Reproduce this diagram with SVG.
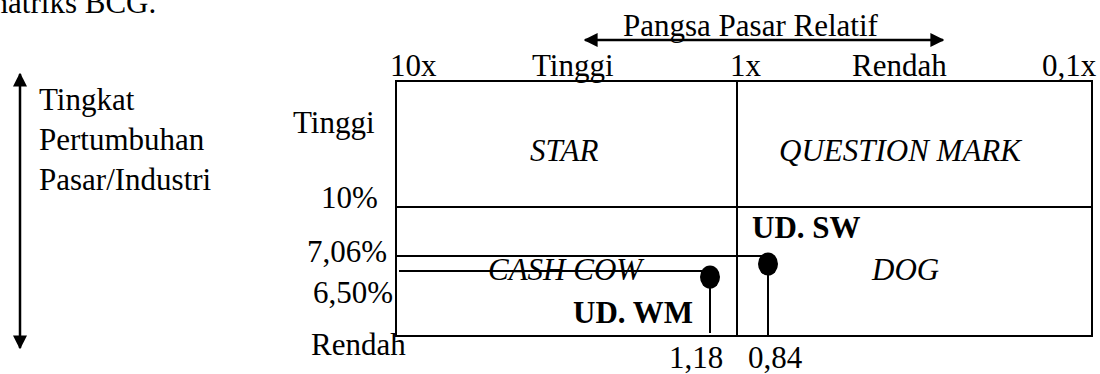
<svg xmlns="http://www.w3.org/2000/svg" width="1100" height="374" viewBox="0 0 1100 374">
<style>
text{font-family:"Liberation Serif","Times New Roman",serif;font-size:31px;fill:#000}
.it{font-style:italic}
.b{font-weight:bold}
.ln{stroke:#000;stroke-width:2;fill:none}
.ax{stroke:#000;stroke-width:2.5;fill:none}
</style>
<defs>
<marker id="ah" viewBox="0 0 10 10" refX="9" refY="5" markerWidth="5.6" markerHeight="5.6" orient="auto-start-reverse" markerUnits="strokeWidth">
<path d="M0,0 L10,5 L0,10 z" fill="#000"/>
</marker>
</defs>
<text x="-16" y="13">matriks BCG.</text>
<g id="axis-y">
<line class="ax" x1="20" y1="74" x2="20" y2="348" marker-start="url(#ah)" marker-end="url(#ah)"/>
<text x="39" y="110">Tingkat</text>
<text x="39" y="150">Pertumbuhan</text>
<text x="39" y="190">Pasar/Industri</text>
</g>
<g id="axis-x">
<line class="ax" x1="585" y1="40" x2="943" y2="40" marker-start="url(#ah)" marker-end="url(#ah)"/>
<text x="623" y="36">Pangsa Pasar Relatif</text>
<text x="390" y="76">10x</text>
<text x="532" y="76">Tinggi</text>
<text x="730" y="76">1x</text>
<text x="852" y="76">Rendah</text>
<text x="1042" y="76">0,1x</text>
</g>
<g id="labels-y">
<text x="293" y="133">Tinggi</text>
<text x="321" y="208">10%</text>
<text x="307" y="262">7,06%</text>
<text x="313" y="303">6,50%</text>
<text x="311" y="355">Rendah</text>
</g>
<g id="matrix">
<rect class="ln" x="396" y="81" width="696" height="255"/>
<line class="ln" x1="737" y1="81" x2="737" y2="336"/>
<line class="ln" x1="396" y1="207" x2="1092" y2="207"/>
</g>
<g id="star"><text class="it" x="530" y="161">STAR</text></g>
<g id="question-mark"><text class="it" x="779" y="161">QUESTION MARK</text></g>
<g id="cash-cow"><text class="it" x="488" y="280">CASH COW</text></g>
<g id="dog"><text class="it" x="872" y="280">DOG</text></g>
<g id="connectors">
<line class="ln" x1="396" y1="256" x2="768" y2="256"/>
<line class="ln" x1="399" y1="271" x2="710" y2="271"/>
<line class="ln" x1="710" y1="277" x2="710" y2="333"/>
<line class="ln" x1="768" y1="264" x2="768" y2="336"/>
</g>
<g id="ud-wm">
<ellipse cx="710" cy="277" rx="10" ry="11.5"/>
<text class="b" x="573" y="323">UD. WM</text>
<text x="669" y="368">1,18</text>
</g>
<g id="ud-sw">
<ellipse cx="768" cy="264" rx="10" ry="11.5"/>
<text class="b" x="752" y="238">UD. SW</text>
<text x="748" y="368">0,84</text>
</g>
</svg>
